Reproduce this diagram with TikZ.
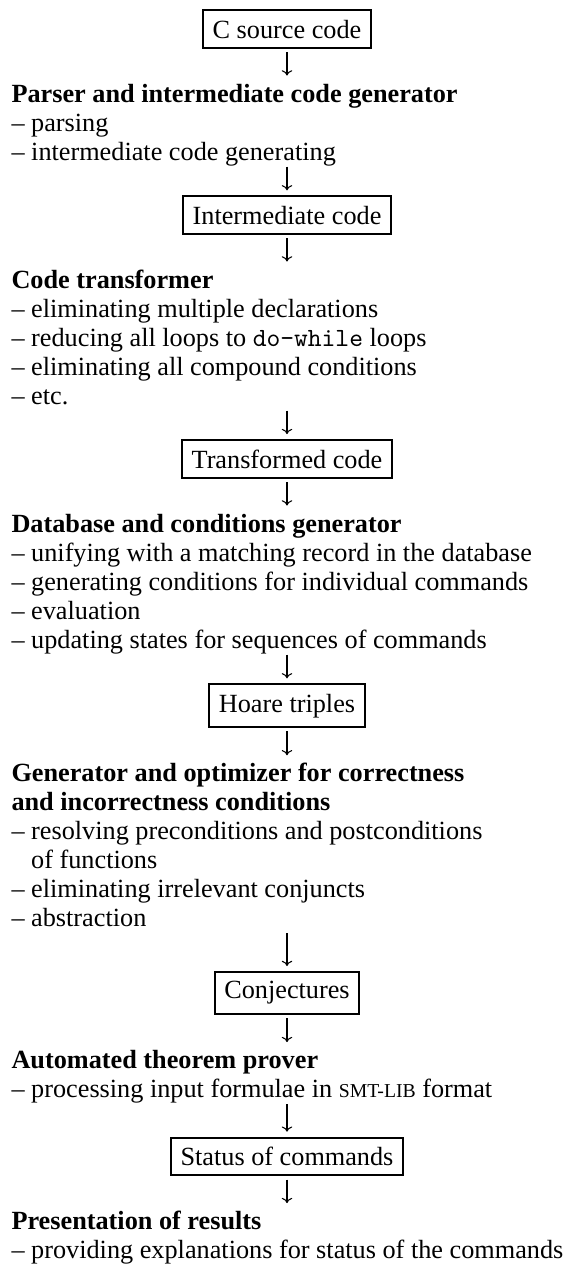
\documentclass[tikz,border=0pt]{standalone}
\usepackage{fontspec}
\setmainfont{Liberation Serif}
\usetikzlibrary{arrows.meta}
\tikzset{
  stagebox/.style={draw, line width=0.75pt, inner sep=3.6pt, anchor=base},
  line/.style={inner sep=0pt, anchor=base west, text height=0.69em, text depth=0pt},
  flow/.style={-{To[length=2pt,width=4pt]}, line width=0.4pt},
  into/.style={flow, shorten <=2.3pt, shorten >=1.9pt},
  outof/.style={flow, shorten <=1.3pt, shorten >=3pt}
}
\newcommand{\smtlib}{{\fontsize{7.5}{9}\selectfont SMT-LIB}}
\newcommand{\stage}[3]{
  \foreach[count=\i] \txt in {#3} {
    \node[line] (#1-\i) at (11, #2 + \i*29 - 29) {\txt};
  }
}

\begin{document}
\begin{tikzpicture}[x=0.381pt, y=-0.381pt]
  \useasboundingbox (0,0) rectangle (571,1275);
  \node[stagebox] (csrc) at (287,38) {C source code};
  \stage{parser}{102}{\textbf{Parser and intermediate code generator},
    – parsing, – intermediate code generating}
  \node[stagebox] (icode) at (287,224) {Intermediate code};
  \stage{trans}{288}{\textbf{Code transformer},
    – eliminating multiple declarations,
    – reducing all loops to \texttt{do-while} loops,
    – eliminating all compound conditions, – etc.}
  \node[stagebox] (tcode) at (287,468) {Transformed code};
  \stage{dbase}{532}{\textbf{Database and conditions generator},
    – unifying with a matching record in the database,
    – generating conditions for individual commands,
    – evaluation,
    – updating states for sequences of commands}
  \node[stagebox] (hoare) at (287,712) {Hoare triples};
  \stage{optim}{781.8}{\textbf{Generator and optimizer for correctness},
    \textbf{and incorrectness conditions},
    – resolving preconditions and postconditions,
    \hphantom{– }of functions,
    – eliminating irrelevant conjuncts,
    – abstraction}
  \node[stagebox] (conj) at (287,998.8) {Conjectures};
  \stage{prover}{1068.6}{\textbf{Automated theorem prover},
    – processing input formulae in \smtlib\ format}
  \node[stagebox] (status) at (287,1165.6) {Status of commands};
  \stage{present}{1229.6}{\textbf{Presentation of results},
    – providing explanations for status of the commands}

  % arrows between the stages
  \draw[outof] (csrc) -- (csrc |- parser-1.north);
  \draw[into] (icode |- parser-3.south) -- (icode);
  \draw[outof] (icode) -- (icode |- trans-1.north);
  \draw[into] (tcode |- trans-5.south) -- (tcode);
  \draw[outof] (tcode) -- (tcode |- dbase-1.north);
  \draw[into] (hoare |- dbase-5.south) -- (hoare);
  \draw[outof] (hoare) -- (hoare |- optim-1.north);
  \draw[into] (conj |- optim-6.south) -- (conj);
  \draw[outof] (conj) -- (conj |- prover-1.north);
  \draw[into] (status |- prover-2.south) -- (status);
  \draw[outof] (status) -- (status |- present-1.north);
\end{tikzpicture}
\end{document}
